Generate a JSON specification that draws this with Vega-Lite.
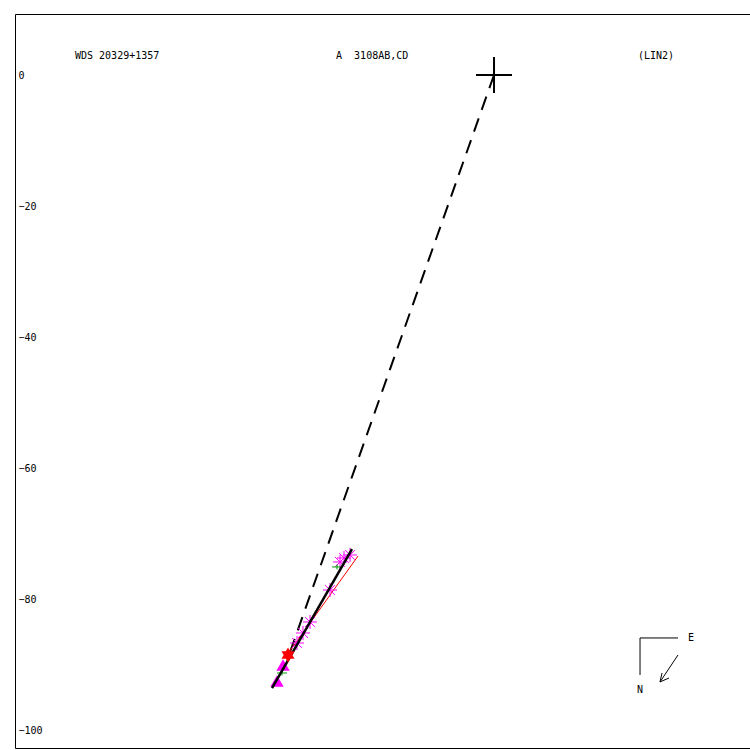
{
  "$schema": "https://vega.github.io/schema/vega-lite/v6.json",
  "autosize": "none",
  "padding": {"left": 15, "top": 14, "right": 0, "bottom": 2},
  "width": 735,
  "height": 734,
  "background": "white",
  "config": {
    "view": {"stroke": "black", "strokeWidth": 1},
    "font": "DejaVu Sans Mono"
  },
  "datasets": {
    "segments": [
      {"kind": "dashed", "x": 0, "y": 0, "x2": -31.3, "y2": -88.55},
      {"kind": "orbit", "x": -33.89, "y": -93.59, "x2": -21.68, "y2": -72.37},
      {"kind": "red", "x": -31.6, "y": -88.55, "x2": -20.76, "y2": -73.44},
      {"kind": "compass", "x": 22.29, "y": -85.95, "x2": 28.09, "y2": -85.95},
      {"kind": "compass", "x": 22.29, "y": -85.95, "x2": 22.29, "y2": -91.6},
      {"kind": "compass", "x": 28.09, "y": -88.55, "x2": 25.34, "y2": -92.67},
      {"kind": "compass", "x": 25.34, "y": -92.67, "x2": 25.65, "y2": -91.3},
      {"kind": "compass", "x": 25.34, "y": -92.67, "x2": 26.72, "y2": -92.06}
    ],
    "obs": [
      {"type": "asterisk", "x": -21.98, "y": -73.28},
      {"type": "asterisk", "x": -22.9, "y": -73.74},
      {"type": "asterisk", "x": -23.51, "y": -74.35},
      {"type": "asterisk", "x": -25.04, "y": -78.63},
      {"type": "asterisk", "x": -28.09, "y": -83.51},
      {"type": "asterisk", "x": -29.16, "y": -85.19},
      {"type": "asterisk", "x": -30.08, "y": -86.72},
      {"type": "plus", "x": -23.97, "y": -75.11},
      {"type": "plus", "x": -32.37, "y": -91.3},
      {"type": "star", "x": -31.45, "y": -88.55},
      {"type": "triangle", "x": -32.21, "y": -90.08},
      {"type": "triangle", "x": -33.13, "y": -92.52},
      {"type": "primary", "x": 0, "y": 0}
    ],
    "labels": [
      {"text": "WDS 20329+1357", "x": -63.97, "y": 2.9},
      {"text": "A\u00a0 3108AB,CD", "x": -24.12, "y": 2.9},
      {"text": "(LIN2)", "x": 21.98, "y": 2.9},
      {"text": "E", "x": 29.62, "y": -85.95},
      {"text": "N", "x": 21.83, "y": -93.89}
    ]
  },
  "encoding": {
    "x": {"field": "x", "type": "quantitative", "scale": {"domain": [-73.13, 39.08], "nice": false, "zero": false}, "axis": null},
    "y": {"field": "y", "type": "quantitative", "scale": {"domain": [-102.75, 9.313], "nice": false, "zero": false},
      "axis": {"title": null, "values": [0, -20, -40, -60, -80, -100], "ticks": false, "domain": false, "grid": false,
        "labelAlign": "left", "labelPadding": -3, "labelFont": "DejaVu Sans Mono", "labelFontSize": 10, "labelColor": "black", "labelBaseline": "middle", "labelOffset": 1}}
  },
  "layer": [
    {
      "data": {"name": "segments"},
      "transform": [{"filter": "datum.kind === 'dashed'"}],
      "mark": {"type": "rule", "color": "black", "strokeWidth": 2, "strokeDash": [14, 9]},
      "encoding": {"x2": {"field": "x2"}, "y2": {"field": "y2"}}
    },
    {
      "data": {"name": "segments"},
      "transform": [{"filter": "datum.kind === 'red'"}],
      "mark": {"type": "rule", "color": "red", "strokeWidth": 1},
      "encoding": {"x2": {"field": "x2"}, "y2": {"field": "y2"}}
    },
    {
      "data": {"name": "obs"},
      "transform": [{"filter": "datum.type === 'asterisk'"}],
      "mark": {"type": "point", "shape": "M-1,0L1,0M0,-1L0,1M-0.7,-0.7L0.7,0.7M-0.7,0.7L0.7,-0.7", "filled": false, "stroke": "#ff00ff", "strokeWidth": 1, "size": 196, "opacity": 1}
    },
    {
      "data": {"name": "obs"},
      "transform": [{"filter": "datum.type === 'triangle'"}],
      "mark": {"type": "point", "shape": "triangle-up", "filled": true, "color": "#ff00ff", "size": 180, "opacity": 1}
    },
    {
      "data": {"name": "obs"},
      "transform": [{"filter": "datum.type === 'plus'"}],
      "mark": {"type": "point", "shape": "M-1,0L1,0M0,-0.5L0,0.5", "filled": false, "stroke": "#00a000", "strokeWidth": 1, "size": 100, "opacity": 1}
    },
    {
      "data": {"name": "segments"},
      "transform": [{"filter": "datum.kind === 'orbit'"}],
      "mark": {"type": "rule", "color": "black", "strokeWidth": 2.5},
      "encoding": {"x2": {"field": "x2"}, "y2": {"field": "y2"}}
    },
    {
      "data": {"name": "obs"},
      "transform": [{"filter": "datum.type === 'star'"}],
      "mark": {"type": "point", "shape": "M0,-1L0.29,-0.5L0.87,-0.5L0.58,0L0.87,0.5L0.29,0.5L0,1L-0.29,0.5L-0.87,0.5L-0.58,0L-0.87,-0.5L-0.29,-0.5Z", "filled": true, "color": "red", "size": 225, "opacity": 1}
    },
    {
      "data": {"name": "obs"},
      "transform": [{"filter": "datum.type === 'primary'"}],
      "mark": {"type": "point", "shape": "M-1,0L1,0M0,-1L0,1", "filled": false, "stroke": "black", "strokeWidth": 2, "size": 1296, "opacity": 1}
    },
    {
      "data": {"name": "segments"},
      "transform": [{"filter": "datum.kind === 'compass'"}],
      "mark": {"type": "rule", "color": "black", "strokeWidth": 1},
      "encoding": {"x2": {"field": "x2"}, "y2": {"field": "y2"}}
    },
    {
      "data": {"name": "labels"},
      "mark": {"type": "text", "align": "left", "baseline": "middle", "font": "DejaVu Sans Mono", "fontSize": 10, "color": "black"},
      "encoding": {"text": {"field": "text"}}
    }
  ]
}
